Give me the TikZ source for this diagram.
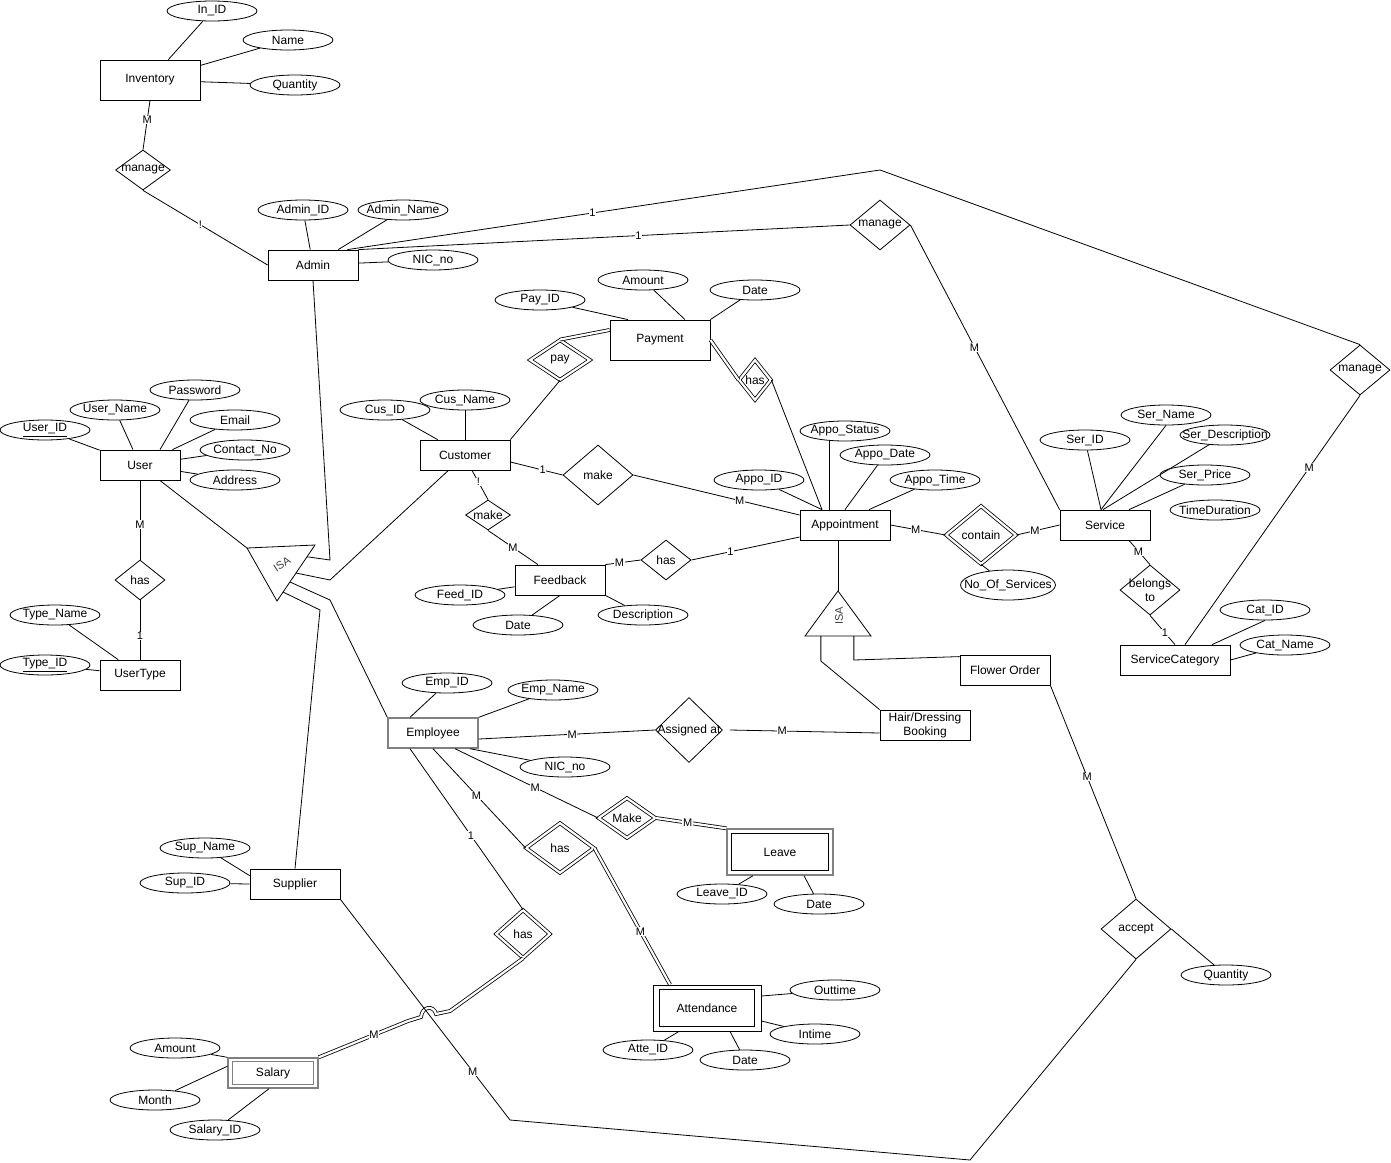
\documentclass[tikz,border=0pt]{standalone}
\usepackage{fontspec}
\setmainfont{Liberation Sans}
\usetikzlibrary{shapes.geometric,calc}

\tikzset{
  ent/.style={draw, fill=white, minimum width=90pt, minimum height=30pt, inner sep=0pt},
  grayent/.style={draw=gray, line width=1.4pt},
  attr/.style={ellipse, draw, fill=white, minimum width=90pt, minimum height=20pt, inner sep=0pt},
  rel/.style={diamond, draw, fill=white, inner sep=0pt},
  dbl/.style={double, double distance=2.2pt},
  lbl/.style={fill=white, inner sep=0.6pt, font=\fontsize{11}{12}\selectfont},
  isatext/.style={text=darkgray, font=\fontsize{11}{12}\selectfont, inner sep=0pt}
}

\begin{document}
\begin{tikzpicture}[x=1pt,y=-1pt,line width=0.8pt,font=\fontsize{12}{14}\selectfont]
\fill[white] (0,0) rectangle (1391,1162);
\useasboundingbox (0,0) rectangle (1391,1162);

% inventory
\node[ent, minimum width=100pt, minimum height=40pt] (inv) at (150,80) {Inventory};
\node[attr, label=center:In\_ID] (invid) at (212,11) {};
\node[attr, label=center:Name] (invname) at (288,40) {};
\node[attr, label=center:Quantity] (invqty) at (295,85) {};
\node[rel, minimum width=55pt, minimum height=40pt, label=center:manage] (mginv) at (143,170) {};

% admin
\node[ent] (admin) at (313,265) {Admin};
\node[attr, label=center:Admin\_ID] (adid) at (303,210) {};
\node[attr, label=center:Admin\_Name] (adname) at (403,210) {};
\node[attr, label=center:NIC\_no] (adnic) at (433,260) {};
\node[rel, minimum width=60pt, minimum height=50pt, label=center:manage] (mgsvc) at (880,225) {};
\node[rel, minimum width=60pt, minimum height=50pt, label=center:manage] (mgcat) at (1360,370) {};
\coordinate (bend) at (880,170);

% user
\node[ent, minimum width=80pt] (user) at (140,465) {User};
\node[attr, label={center:\underline{User\_ID}}] (uid) at (45,430) {};
\node[attr, label=center:User\_Name] (uname) at (115,410) {};
\node[attr, label=center:Password] (upw) at (195,390) {};
\node[attr, label=center:Email] (uemail) at (235,420) {};
\node[attr, label=center:Contact\_No] (ucont) at (245,450) {};
\node[attr, label=center:Address] (uaddr) at (235,480) {};
\node[rel, minimum width=50pt, minimum height=40pt, label=center:has] (hasut) at (140,580) {};
\node[ent, minimum width=80pt] (utype) at (140,675) {UserType};
\node[attr, label=center:Type\_Name] (tname) at (55,615) {};
\node[attr, label={center:\underline{Type\_ID}}] (tid) at (45,665) {};

% isa (users)
\coordinate (isaL) at (247,548);
\coordinate (isaR) at (315,545);
\coordinate (isaB) at (277,601);
\draw (isaL) -- (isaR) -- (isaB) -- cycle;
\node[isatext, rotate=33] (isaone) at (282,564) {ISA};

% customer
\node[ent] (cust) at (465,455) {Customer};
\node[attr, label=center:Cus\_ID] (cid) at (385,410) {};
\node[attr, label=center:Cus\_Name] (cname) at (465,400) {};

% payment
\node[ent, minimum width=100pt, minimum height=40pt] (pay) at (660,340) {Payment};
\node[attr, label=center:Pay\_ID] (payid) at (540,300) {};
\node[attr, label=center:Amount] (payamt) at (643,280) {};
\node[attr, label=center:Date] (paydate) at (755,290) {};
\node[rel, dbl, minimum width=60pt, minimum height=40pt, label=center:pay] (payrel) at (560,360) {};
\node[rel, dbl, minimum width=32pt, minimum height=40pt, label=center:has] (haspay) at (755,380) {};

% make
\node[rel, minimum width=70pt, minimum height=60pt, label=center:make] (mkapp) at (598,475) {};
\node[rel, minimum width=45pt, minimum height=30pt, label=center:make] (mkfb) at (488,515) {};

% feedback
\node[ent] (fb) at (560,580) {Feedback};
\node[attr, label=center:Feed\_ID] (fbid) at (460,595) {};
\node[attr, label=center:Date] (fbdate) at (518,625) {};
\node[attr, label=center:Description] (fbdesc) at (643,615) {};
\node[rel, minimum width=50pt, minimum height=40pt, label=center:has] (hasfb) at (666,560) {};

% appointment
\node[ent] (appo) at (845,525) {Appointment};
\node[attr, label=center:Appo\_ID] (apid) at (759,480) {};
\node[attr, label=center:Appo\_Status] (apstat) at (845,431) {};
\node[attr, label=center:Appo\_Date] (apdate) at (885,455) {};
\node[attr, label=center:Appo\_Time] (aptime) at (935,480) {};
\node[rel, dbl, minimum width=70pt, minimum height=58pt, label=center:contain] (contain) at (981,535) {};
\node[attr, minimum width=95pt, minimum height=30pt, label=center:No\_Of\_Services] (nos) at (1008,585) {};

% isa (bookings)
\coordinate (isbT) at (838,591);
\coordinate (isbL) at (805,636);
\coordinate (isbR) at (871,636);
\draw (isbT) -- (isbL) -- (isbR) -- cycle;
\node[isatext, rotate=90] (isatwo) at (839,616) {ISA};
\node[ent, align=center] (hair) at (925,725) {Hair/Dressing\\Booking};
\node[ent] (flower) at (1005,670) {Flower Order};

% service
\node[ent] (serv) at (1105,525) {Service};
\node[attr, label=center:Ser\_ID] (sid) at (1085,440) {};
\node[attr, label=center:Ser\_Name] (sname) at (1166,415) {};
\node[attr, label=center:Ser\_Description] (sdesc) at (1225,435) {};
\node[attr, label=center:Ser\_Price] (sprice) at (1205,475) {};
\node[attr, label=center:TimeDuration] (stime) at (1215,510) {};
\node[rel, minimum width=60pt, minimum height=50pt, label={[align=center]center:belongs\\to}] (belongs) at (1150,590) {};
\node[ent, minimum width=110pt] (scat) at (1175,660) {ServiceCategory};
\node[attr, label=center:Cat\_ID] (catid) at (1265,610) {};
\node[attr, label=center:Cat\_Name] (catname) at (1285,645) {};

% employee
\node[ent, grayent] (emp) at (433,733) {Employee};
\node[attr, label=center:Emp\_ID] (empid) at (447,683) {};
\node[attr, label=center:Emp\_Name] (empname) at (553,690) {};
\node[attr, label=center:NIC\_no] (empnic) at (565,767) {};
\node[rel, minimum width=67pt, minimum height=65pt, label=center:Assigned at] (assign) at (689,730) {};
\node[rel, dbl, minimum width=57pt, minimum height=40pt, label=center:Make] (mkleave) at (627,818) {};
\node[ent, grayent, minimum width=106pt, minimum height=46pt] (leave) at (780,852) {Leave};
\draw ([shift={(5pt,-5pt)}]leave.north west) rectangle ([shift={(-5pt,5pt)}]leave.south east);
\node[attr, label=center:Leave\_ID] (lvid) at (722,894) {};
\node[attr, label=center:Date] (lvdate) at (819,904) {};
\node[rel, dbl, minimum width=68pt, minimum height=50pt, label=center:has] (hasatt) at (560,848) {};
\node[ent, minimum width=108pt, minimum height=46pt] (att) at (707,1008) {Attendance};
\draw ([shift={(7pt,-5pt)}]att.north west) rectangle ([shift={(-7pt,5pt)}]att.south east);
\node[attr, label=center:Outtime] (atout) at (835,990) {};
\node[attr, label=center:Intime] (atin) at (815,1034) {};
\node[attr, label=center:Atte\_ID] (atid) at (648,1050) {};
\node[attr, label=center:Date] (atdate) at (745,1060) {};
\node[rel, dbl, minimum width=54pt, minimum height=48pt, label=center:has] (hassal) at (523,934) {};
\node[ent, grayent] (sal) at (273,1073) {Salary};
\draw[gray, line width=1.2pt] ([shift={(5pt,-4.5pt)}]sal.north west) rectangle ([shift={(-5pt,4.5pt)}]sal.south east);
\node[attr, label=center:Amount] (salamt) at (175,1048) {};
\node[attr, label=center:Month] (salmon) at (155,1100) {};
\node[attr, label=center:Salary\_ID] (salid) at (215,1130) {};

% supplier
\node[ent] (sup) at (295,884) {Supplier};
\node[attr, label=center:Sup\_Name] (supname) at (205,848) {};
\node[attr, label=center:Sup\_ID] (supid) at (185,883) {};
\node[rel, minimum width=70pt, minimum height=60pt, label=center:accept] (accept) at (1136,929) {};
\node[attr, label=center:Quantity] (accqty) at (1226,975) {};
\coordinate (lowA) at (510,1120);
\coordinate (lowB) at (970,1160);

% connectors
\draw (inv) -- (invid);
\draw (inv) -- (invname);
\draw (inv) -- (invqty);
\draw (inv.south) -- node[lbl, pos=0.4] {M} (mginv.north);
\draw (mginv.south) -- node[lbl, pos=0.46] {!} (admin.west);
\draw (admin) -- (adid);
\draw (admin) -- (adname);
\draw (admin) -- (adnic);
\draw ([xshift=-11pt]admin.north east) -- node[lbl, pos=0.46] {1} (bend) -- (mgcat.north);
\draw (admin.north east) -- node[lbl, pos=0.57] {1} (mgsvc.west);
\draw (mgsvc.east) -- node[lbl, pos=0.43] {M} (serv.north west);
\draw (mgcat.south) -- node[lbl, pos=0.29] {M} ([xshift=10pt]scat.north);

\draw (user) -- (uid);
\draw (user) -- (uname);
\draw ([xshift=20pt]user.north) -- (upw);
\draw (user) -- (uemail);
\draw (user) -- (ucont);
\draw (user) -- (uaddr);
\draw (user.south) -- node[lbl, pos=0.56] {M} (hasut.north);
\draw (hasut.south) -- node[lbl, pos=0.6] {1} (utype.north);
\draw (utype) -- (tname);
\draw (utype) -- (tid);

\draw (user) -- (isaL);
\draw (admin.south) -- (330,560) -- ($(isaR)!0.21!(isaB)$);
\draw (cust) -- (330,580) -- ($(isaR)!0.5!(isaB)$);
\draw ($(isaR)!0.66!(isaB)$) -- (330,600) -- (emp.north west);
\draw ($(isaR)!0.84!(isaB)$) -- (320,610) -- (sup.north);

\draw (cust) -- (cid);
\draw (cust) -- (cname);
\draw (cust.north east) -- (payrel.south);
\draw[dbl] (payrel.north) -- ([yshift=10pt]pay.west);
\draw[dbl] (pay.east) -- (haspay.west);
\draw (haspay.east) -- ([xshift=-23pt]appo.north);
\draw ([xshift=-32pt]pay.north) -- (payid);
\draw ([xshift=25pt]pay.north) -- (payamt);
\draw (pay.north east) -- (paydate);
\draw ([yshift=-7pt]cust.east) -- node[lbl, pos=0.62] {1} (mkapp.west);
\draw (mkapp.east) -- node[lbl, pos=0.64] {M} ([yshift=10pt]appo.west);
\draw ([xshift=7pt]cust.south) -- node[lbl, pos=0.4] {!} (mkfb.north);
\draw (mkfb.south) -- node[lbl, pos=0.5] {M} ([xshift=-22pt]fb.north);
\draw (fb) -- (fbid);
\draw (fb.south) -- (fbdate);
\draw (fb.south east) -- (fbdesc);
\draw (fb.north east) -- node[lbl, pos=0.4] {M} (hasfb.west);
\draw (hasfb.east) -- node[lbl, pos=0.36] {1} ([yshift=-12pt]appo.west);

\draw ([xshift=-23pt]appo.north) -- (apid);
\draw (apstat.-148) -- (apstat.-148 |- appo.north);
\draw (appo.north) -- (apdate);
\draw ([xshift=24pt]appo.north) -- (aptime);
\draw (appo.east) -- node[lbl, pos=0.46] {M} (contain.west);
\draw (contain.east) -- node[lbl, pos=0.43] {M} (serv.west);
\draw (contain.south) -- (nos);
\draw (appo.south -| isbT) -- (isbT);
\draw ($(isbL)!0.24!(isbR)$) -- ++(0,25) -- (hair.north west);
\draw ($(isbL)!0.74!(isbR)$) -- ++(0,24) -- ([yshift=-2pt]flower.north west);

\draw ([xshift=-4pt]serv.north) -- (sid);
\draw ([xshift=-4pt]serv.north) -- (sname.south);
\draw ([xshift=-2pt]serv.north) -- (sdesc);
\draw ([xshift=24pt]serv.north) -- (sprice);
\draw ([xshift=24pt]serv.south) -- node[lbl, pos=0.45] {M} (belongs.north);
\draw (belongs.south) -- node[lbl, pos=0.6] {1} (scat.north);
\draw ([xshift=37pt]scat.north) -- (catid.south);
\draw (scat.east) -- (catname);

\draw ([xshift=-23pt]emp.north) -- (empid);
\draw (emp.north east) -- (empname);
\draw ([xshift=37pt]emp.south) -- (empnic);
\draw ([yshift=-6pt]emp.east) -- node[lbl, pos=0.53] {M} (assign.west);
\draw ([xshift=7pt]assign.east) -- node[lbl, pos=0.35] {M} ([yshift=-8pt]hair.west);
\draw ([xshift=22pt]emp.south) -- node[lbl, pos=0.56] {M} (mkleave.west);
\draw[dbl] (mkleave.east) -- node[lbl, pos=0.45] {M} (leave.north west);
\draw (emp.south) -- node[lbl, pos=0.47] {M} (hasatt.west);
\draw[dbl] (hasatt.east) -- node[lbl, pos=0.61] {M} ([xshift=-37pt]att.north);
\draw ([xshift=-27pt]leave.south) -- (lvid);
\draw ([xshift=24pt]leave.south) -- (lvdate);
\draw ([yshift=12pt]att.east) -- (atout);
\draw ([yshift=-13pt]att.east) -- (atin);
\draw ([xshift=-28pt]att.south) -- (atid);
\draw ([xshift=23pt]att.south) -- (atdate);
\draw ([xshift=-23pt]emp.south) -- node[lbl, pos=0.54] {1} (hassal.north);
\draw[dbl] (hassal.south) -- (450,1011) -- (436,1014) .. controls (434,1005) and (422,1006) .. (421,1017) -- (408,1021) -- node[lbl, pos=0.38] {M} (sal.north east);

\draw (sal.north west) -- (salamt);
\draw ([yshift=-9pt]sal.north west) -- (salmon);
\draw ([xshift=-4pt]sal.south) -- (salid);

\draw ([yshift=-7pt]sup.north west) -- (supname);
\draw (sup.west) -- (supid);
\draw (sup.south east) -- node[lbl, pos=0.78] {M} (lowA) -- (lowB) -- (accept.south);
\draw (flower.south east) -- node[lbl, pos=0.43] {M} (accept.north);
\draw (accept.east) -- (accqty);
\end{tikzpicture}
\end{document}
